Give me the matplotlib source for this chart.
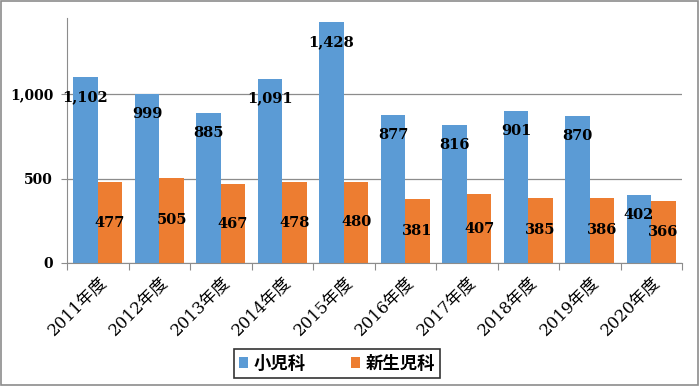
import numpy as np
import matplotlib.pyplot as plt
from matplotlib.ticker import FuncFormatter

# データ
years = ['2011年度', '2012年度', '2013年度', '2014年度', '2015年度',
         '2016年度', '2017年度', '2018年度', '2019年度', '2020年度']
shonika = [1102, 999, 885, 1091, 1428, 877, 816, 901, 870, 402]
shinseiji = [477, 505, 467, 478, 480, 381, 407, 385, 386, 366]

blue = '#5B9BD5'
orange = '#ED7D31'

fig = plt.figure(figsize=(6.99, 3.86), dpi=100)
ax = fig.add_axes([0.0959, 0.3187, 0.8798, 0.6347])

x = np.arange(len(years))
w = 0.4
b1 = ax.bar(x - w / 2, shonika, w, color=blue, label='小児科', zorder=2)
b2 = ax.bar(x + w / 2, shinseiji, w, color=orange, label='新生児科', zorder=2)

num_font = dict(family='DejaVu Serif', fontweight='bold', fontsize=10.5)

# 小児科のラベルは上端付近、新生児科は中央
for rect, v in zip(b1, shonika):
    ax.annotate(f'{v:,}', (rect.get_x() + rect.get_width() / 2, v),
                xytext=(0, -20), textcoords='offset pixels',
                ha='center', va='center', zorder=3, **num_font)
for rect, v in zip(b2, shinseiji):
    ax.text(rect.get_x() + rect.get_width() / 2, v / 2, f'{v:,}',
            ha='center', va='center', zorder=3, **num_font)

ax.set_xlim(-0.5, len(years) - 0.5)
ax.set_ylim(0, 1450)
ax.set_yticks([0, 500, 1000])
ax.yaxis.set_major_formatter(FuncFormatter(lambda v, p: f'{int(v):,}'))
for lab in ax.get_yticklabels():
    lab.set_fontfamily('DejaVu Serif')
    lab.set_fontweight('bold')
    lab.set_fontsize(10)
ax.yaxis.grid(True, color='#8c8c8c', linewidth=0.9, zorder=0)
ax.tick_params(axis='y', length=4, color='#8c8c8c', pad=6)

# x軸: 区切りに目盛り
ax.set_xticks(np.arange(len(years) + 1) - 0.5)
ax.set_xticklabels([])
ax.set_xticks(x, minor=True)
ax.set_xticklabels(years, minor=True, rotation=45, ha='right', va='top',
                   rotation_mode='anchor', fontsize=12,
                   family=['DejaVu Serif', 'Noto Sans CJK JP'])
ax.tick_params(axis='x', which='major', length=5, color='#8c8c8c')
ax.tick_params(axis='x', which='minor', length=0, pad=7)

for s in ['top', 'right']:
    ax.spines[s].set_visible(False)
ax.spines['left'].set_color('#8c8c8c')
ax.spines['bottom'].set_color('#8c8c8c')

leg = fig.legend(loc='center', bbox_to_anchor=(0.482, 0.058), ncol=2,
                 frameon=True, fancybox=False, edgecolor='black',
                 handlelength=0.55, handleheight=0.55, handletextpad=0.3,
                 columnspacing=2.6, borderpad=0.3, borderaxespad=0,
                 prop={'family': 'Noto Sans CJK JP', 'weight': 'bold', 'size': 12.5})
leg.get_frame().set_linewidth(1.2)
for t in leg.get_texts():
    t.set_x(0)

# 外枠
fig.patches.append(plt.Rectangle((0.002, 0.003), 0.996, 0.994, transform=fig.transFigure,
                                 fill=False, edgecolor='#8c8c8c', linewidth=1.2))

plt.savefig('out.png', dpi=100)
plt.close()
